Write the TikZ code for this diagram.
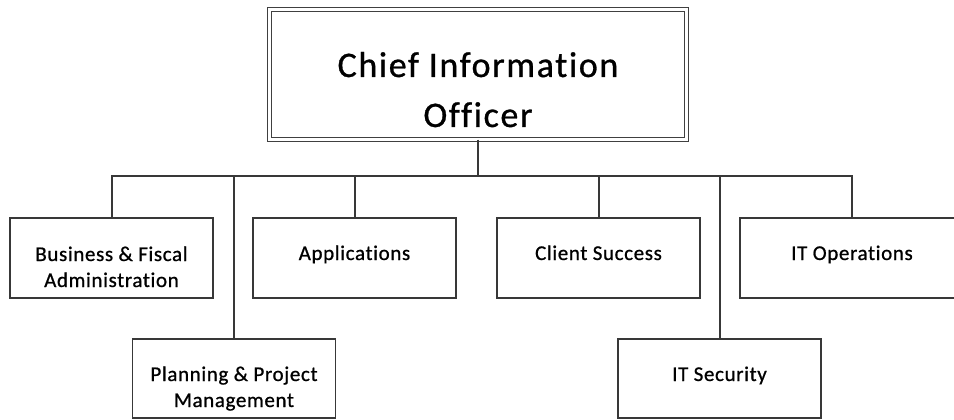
\documentclass[tikz,border=0pt]{standalone}
\usepackage{fontspec}
\setmainfont{Carlito}
\newfontfamily\bigfam{Carlito}[LetterSpace=4.5, Ligatures={NoCommon}, FakeBold=0.8]
\newfontfamily\smallfam{Carlito}[LetterSpace=3, Ligatures={NoCommon}, FakeBold=0.8]
\newcommand\bigtxt{\bigfam\fontsize{36}{50}\selectfont}
\newcommand\smalltxt{\smallfam\fontsize{21}{26}\selectfont}
\begin{document}
\begin{tikzpicture}[x=1pt,y=-1pt,
  ln/.style={draw=black!78, line width=1.6pt},
  box/.style={ln, rectangle, inner sep=0pt, outer sep=0pt, minimum width=203pt, minimum height=80pt},
  topbox/.style={draw=black!75, line width=1.1pt, double, double distance=3pt, rectangle, inner sep=0pt, outer sep=0pt, minimum width=417pt, minimum height=130pt},
  lbl/.style={anchor=base, inner sep=0pt, text=black},
  conn/.style={draw=black!78, line width=2pt}
]
\clip (0,0) rectangle (954,420);
\fill[white] (0,0) rectangle (954,420);
% boxes
\node[topbox] (cio) at (478,74.5) {};
\node[box] (bus) at (111.5,258) {};
\node[box] (app) at (354.5,258) {};
\node[box] (cli) at (598.5,258) {};
\node[box, minimum width=224pt] (ops) at (852,258) {};
\node[box, minimum height=79pt] (pln) at (234,378.5) {};
\node[box, minimum height=79pt] (sec) at (719.5,378.5) {};
% labels
\node[lbl] (cioT) at (478,77) {\bigtxt\begin{tabular}[t]{@{}c@{}}Chief Information\\Officer\end{tabular}};
\node[lbl] (busT) at (111.5,261) {\smalltxt\begin{tabular}[t]{@{}c@{}}Business \& Fiscal\\Administration\end{tabular}};
\node[lbl] (appT) at (354.5,260) {\smalltxt Applications};
\node[lbl] (cliT) at (598.5,260) {\smalltxt Client Success};
\node[lbl] (opsT) at (852,260) {\smalltxt IT Operations};
\node[lbl] (plnT) at (234,381) {\smalltxt\begin{tabular}[t]{@{}c@{}}Planning \& Project\\Management\end{tabular}};
\node[lbl] (secT) at (719.5,381) {\smalltxt IT Security};
% connectors
\coordinate (hub) at (478,176);
\draw[conn] (cio.south) -- (hub);
\foreach \c in {bus,pln,app,cli,sec,ops}{
  \draw[conn] (hub) -| (\c.north);
}
\end{tikzpicture}
\end{document}
